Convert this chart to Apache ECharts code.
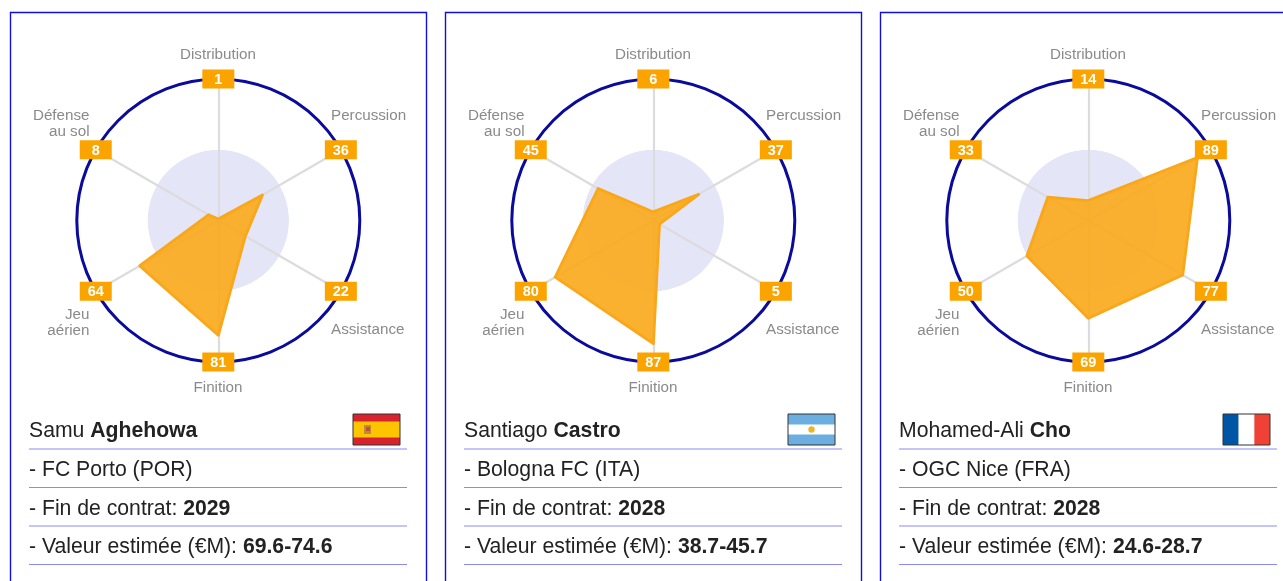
<!DOCTYPE html>
<html>
<head>
<meta charset="utf-8">
<style>html,body{margin:0;padding:0;background:#fff}#c{width:1283px;height:581px}</style>
<script src="https://cdn.jsdelivr.net/npm/echarts@6/dist/echarts.min.js"></script>
</head>
<body>
<div id="c"></div>
<script>
// Indicators in ECharts' counter-clockwise order, starting at the top
const categories = ['Distribution', 'Défense\nau sol', 'Jeu\naérien', 'Finition', 'Assistance', 'Percussion'];
const aghehowa = [1, 8, 64, 81, 22, 36];
const castro = [6, 45, 80, 87, 5, 37];
const cho = [14, 33, 50, 69, 77, 89];
const firstNames = ['Samu', 'Santiago', 'Mohamed-Ali'];
const lastNames = ['Aghehowa', 'Castro', 'Cho'];
const clubs = ['FC Porto (POR)', 'Bologna FC (ITA)', 'OGC Nice (FRA)'];
const contracts = ['2029', '2028', '2028'];
const valuations = ['69.6-74.6', '38.7-45.7', '24.6-28.7'];
const players = [aghehowa, castro, cho];
const scaleMax = [100, 100, 100, 100, 100, 100];

const cardStep = 435;
const nameLayout = [
  {x: 218, y: 54.5, align: 'center'},
  {x: 89.5, y: 123.5, align: 'right'},
  {x: 89.5, y: 322.5, align: 'right'},
  {x: 218, y: 387.5, align: 'center'},
  {x: 331, y: 329.5, align: 'left'},
  {x: 331, y: 115.5, align: 'left'}
];

const FONT = '"Liberation Sans", Arial, sans-serif';
const graphics = [];
const radars = [];
const series = [];

function flag(ox, i) {
  const x = 353 + ox, y = 414, w = 47, h = 31;
  const out = [];
  const rect = (rx, ry, rw, rh, fill) => out.push({type: 'rect', shape: {x: rx, y: ry, width: rw, height: rh}, style: {fill}, silent: true});
  if (i === 0) {
    rect(x, y, w, h, '#d8232f');
    rect(x, y + 7.5, w, 16, '#fdc400');
    rect(x + 11, y + 11, 7, 9, '#c08a3a');
    rect(x + 13, y + 13, 4, 4, '#c9502c');
  } else if (i === 1) {
    rect(x, y, w, h, '#6caee0');
    rect(x, y + 10.5, w, 10, '#ffffff');
    out.push({type: 'circle', shape: {cx: x + 23.5, cy: y + 15.5, r: 3.2}, style: {fill: '#f0b42c'}, silent: true});
  } else {
    rect(x, y, w / 3, h, '#0055a4');
    rect(x + w / 3, y, w / 3, h, '#ffffff');
    rect(x + 2 * w / 3, y, w / 3, h, '#ef4135');
  }
  out.push({type: 'rect', shape: {x: x, y: y, width: w, height: h}, style: {fill: 'none', stroke: '#333', lineWidth: 1}, silent: true});
  return out;
}

players.forEach((values, i) => {
  const ox = i * cardStep;

  // Card frame (runs off the bottom, and off the right for the last card)
  graphics.push({type: 'rect', z: 0, shape: {x: 10.5 + ox, y: 12.5, width: 416, height: 600},
    style: {fill: 'none', stroke: '#0f0fe0', lineWidth: 1.4}, silent: true});

  radars.push({
    center: [218.3 + ox, 220.5], radius: 141.5, startAngle: 90, shape: 'circle', splitNumber: 2,
    indicator: categories.map(c => ({name: c.replace('\n', ' '), min: 0, max: 100})),
    axisName: {show: false},
    axisLine: {lineStyle: {color: '#dcdcdf', width: 2.2}},
    axisTick: {show: false}, axisLabel: {show: false},
    splitLine: {lineStyle: {color: ['rgba(0,0,0,0)', 'rgba(0,0,0,0)', '#0a0a9c'], width: 3}},
    splitArea: {show: true, areaStyle: {color: ['#e4e6f8', '#ffffff']}}
  });

  series.push({
    type: 'radar', radarIndex: i, symbol: 'none', silent: true, z: 3,
    lineStyle: {color: '#f8a61c', width: 3, join: 'round'},
    areaStyle: {color: '#fba919', opacity: 0.9},
    data: [{value: values, name: firstNames[i] + ' ' + lastNames[i]}]
  });
  // Value badges, sitting on the outer ring
  series.push({
    type: 'radar', radarIndex: i, symbol: 'rect', symbolSize: [32, 19], silent: true, z: 5,
    itemStyle: {color: '#fba400', opacity: 1},
    lineStyle: {opacity: 0, width: 0},
    label: {
      show: true, position: 'inside', offset: [0, 1], color: '#fff', fontFamily: FONT, fontWeight: 'bold', fontSize: 14.5,
      formatter: p => String(values[p.dimensionIndex])
    },
    data: [{value: scaleMax, name: 'badges' + i}]
  });

  // Axis names
  categories.forEach((c, k) => {
    const l = nameLayout[k];
    graphics.push({type: 'text', z: 6, silent: true, style: {
      x: l.x + ox, y: l.y, text: c, align: l.align, verticalAlign: 'middle',
      fill: '#8a8a8a', fontFamily: FONT, fontSize: 15.2, lineHeight: 16
    }});
  });

  // Info rows
  const rows = [
    {y: 431, text: `{n|${firstNames[i]} }{b|${lastNames[i]}}`, rule: 449},
    {y: 470, text: `{n|- ${clubs[i]}}`, rule: 487.5},
    {y: 509, text: `{n|- Fin de contrat: }{b|${contracts[i]}}`, rule: 526},
    {y: 547, text: `{n|- Valeur estimée (€M): }{b|${valuations[i]}}`, rule: 564.5}
  ];
  rows.forEach(r => {
    graphics.push({type: 'text', z: 6, silent: true, style: {
      x: 29 + ox, y: r.y, text: r.text, verticalAlign: 'middle', align: 'left',
      rich: {
        n: {fontFamily: FONT, fontSize: 21.2, fill: '#222', color: '#222'},
        b: {fontFamily: FONT, fontSize: 21.2, fontWeight: 'bold', fill: '#222', color: '#222'}
      }
    }});
    graphics.push({type: 'line', z: 6, silent: true,
      shape: {x1: 29 + ox, y1: r.rule, x2: 407 + ox, y2: r.rule},
      style: {stroke: '#8a8af2', lineWidth: 1}});
  });

  flag(ox, i).forEach(g => { g.z = 6; graphics.push(g); });
});

const chart = echarts.init(document.getElementById('c'), null, {renderer: 'canvas'});
chart.setOption({
  animation: false,
  backgroundColor: '#ffffff',
  radar: radars,
  series: series,
  graphic: {elements: graphics}
});
</script>
</body>
</html>
